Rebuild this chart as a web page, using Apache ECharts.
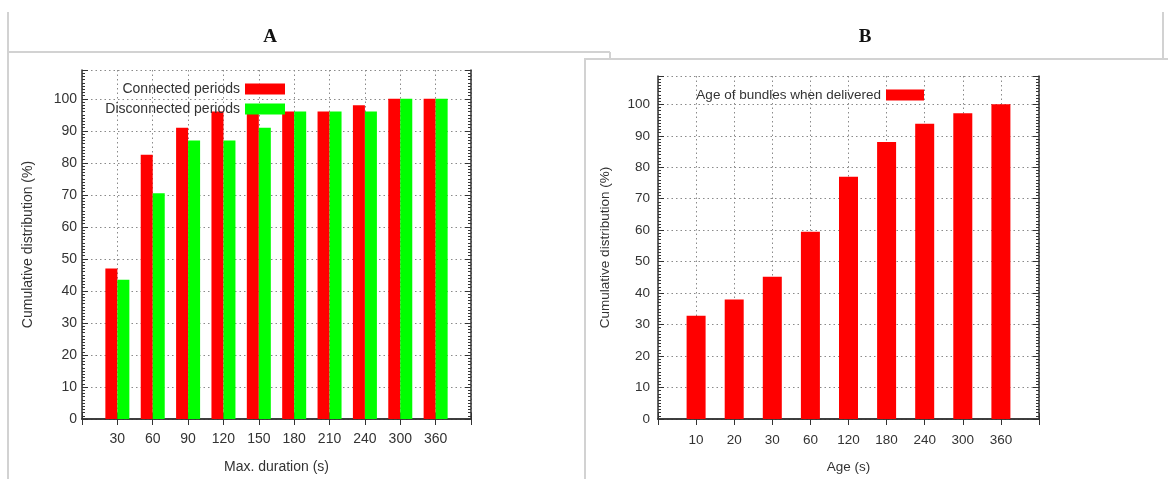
<!DOCTYPE html>
<html>
<head>
<meta charset="utf-8">
<title>cumulative distribution</title>
<script src="https://cdn.jsdelivr.net/npm/echarts@6.0.0/dist/echarts.min.js"></script>
<style>
	html, body { margin: 0; padding: 0; background: #fff; }
	#main { width: 1168px; height: 479px; }
</style>
</head>
<body>
<div id="main"></div>
<script type="text/javascript">
	// A: max. duration of periods
	var durationCats = ['30', '60', '90', '120', '150', '180', '210', '240', '300', '360'];
	var connected = [47, 82.5, 91, 96, 96, 96, 96, 98, 100, 100];
	var disconnected = [43.5, 70.5, 87, 87, 91, 96, 96, 96, 100, 100];

	// B: age of bundles
	var ageCats = ['10', '20', '30', '60', '120', '180', '240', '300', '360'];
	var delivered = [32.8, 38, 45.2, 59.5, 77, 88, 93.8, 97.2, 100];

	// y scale, ticks 0..100 every 10
	var yMax = 109;
	var yStep = 10;

	var FONT = 'Liberation Sans';
	var AXIS_COLOR = '#333';
	var GRID_LINE = { color: '#8a8a8a', width: 1, type: [1.5, 3] };
	var BORDER = '#d2d2d2';

	// one empty slot on each side, like gnuplot's range
	function pad(arr, blank) {
		return [blank].concat(arr, [blank]);
	}

	function bottomAxis(gi, cats, name, fs, margin, nameGap) {
		return {
			type: 'category', gridIndex: gi, position: 'bottom',
			data: pad(cats, ''), boundaryGap: false,
			name: name, nameLocation: 'middle', nameGap: nameGap,
			nameTextStyle: { fontFamily: FONT, fontSize: fs, color: AXIS_COLOR },
			axisLine: { lineStyle: { color: AXIS_COLOR, width: 1.5 } },
			axisTick: { inside: true, length: 6, interval: 0, lineStyle: { color: AXIS_COLOR } },
			axisLabel: { interval: 0, margin: margin, fontFamily: FONT, fontSize: fs, color: AXIS_COLOR },
			splitLine: { show: true, interval: 0, lineStyle: GRID_LINE }
		};
	}

	function topAxis(gi, cats) {
		return {
			type: 'category', gridIndex: gi, position: 'top',
			data: pad(cats, ''), boundaryGap: false,
			axisLine: { lineStyle: { color: AXIS_COLOR, width: 1.5 } },
			axisTick: { inside: true, length: 6, interval: 0, lineStyle: { color: AXIS_COLOR } },
			axisLabel: { show: false },
			splitLine: { show: false }
		};
	}

	function valueAxis(gi, pos, withLabels, fs, margin, nameGap) {
		var ax = {
			type: 'value', gridIndex: gi, position: pos,
			min: 0, max: yMax, interval: yStep,
			axisLine: { show: true, lineStyle: { color: AXIS_COLOR, width: 1.5 } },
			axisTick: { show: true, inside: true, length: 6, lineStyle: { color: AXIS_COLOR } },
			minorTick: { show: true, splitNumber: 10, length: 3, lineStyle: { color: AXIS_COLOR } },
			axisLabel: { show: withLabels, showMaxLabel: false, margin: margin,
				fontFamily: FONT, fontSize: fs, color: AXIS_COLOR },
			splitLine: { show: withLabels, lineStyle: GRID_LINE }
		};
		if (withLabels) {
			ax.name = 'Cumulative distribution (%)';
			ax.nameLocation = 'middle';
			ax.nameGap = nameGap;
			ax.nameTextStyle = { fontFamily: FONT, fontSize: fs, color: AXIS_COLOR };
		}
		return ax;
	}

	function frameLine(x1, y1, x2, y2) {
		return {
			type: 'line', silent: true,
			shape: { x1: x1, y1: y1, x2: x2, y2: y2 },
			style: { stroke: BORDER, lineWidth: 2 }
		};
	}

	function initChart() {
		var myChart = echarts.init(document.getElementById('main'));
		var option = {
			animation: false,
			backgroundColor: '#fff',
			graphic: [
				frameLine(8, 12, 8, 479),
				frameLine(8, 52, 610, 52),
				frameLine(610, 52, 610, 59),
				{ type: 'rect', silent: true, shape: { x: 585, y: 59, width: 600, height: 430 },
					style: { fill: '#fff', stroke: BORDER, lineWidth: 2 }, z: -10 },
				frameLine(1163, 12, 1163, 59),
				{ type: 'text', x: 270, y: 37, style: { text: 'A', font: 'bold 19px "Liberation Serif"',
					fill: '#111', align: 'center', verticalAlign: 'middle' } },
				{ type: 'text', x: 865, y: 37, style: { text: 'B', font: 'bold 19px "Liberation Serif"',
					fill: '#111', align: 'center', verticalAlign: 'middle' } }
			],
			legend: [
				{
					data: ['Connected periods', 'Disconnected periods'],
					orient: 'vertical', align: 'right',
					right: 1168 - 290, top: 77,
					itemWidth: 40, itemHeight: 11, itemGap: 6,
					icon: 'rect', selectedMode: false,
					textStyle: { fontFamily: FONT, fontSize: 14, color: AXIS_COLOR }
				},
				{
					data: ['Age of bundles when delivered'],
					orient: 'vertical', align: 'right',
					right: 1168 - 929, top: 83,
					itemWidth: 38, itemHeight: 11,
					icon: 'rect', selectedMode: false,
					textStyle: { fontFamily: FONT, fontSize: 13.5, color: AXIS_COLOR }
				}
			],
			grid: [
				{ left: 82, top: 70, width: 389, height: 351 },
				{ left: 658, top: 76, width: 381, height: 346 }
			],
			xAxis: [
				bottomAxis(0, durationCats, 'Max. duration (s)', 14, 13, 41),
				topAxis(0, durationCats),
				bottomAxis(1, ageCats, 'Age (s)', 13.5, 14, 41),
				topAxis(1, ageCats)
			],
			yAxis: [
				valueAxis(0, 'left', true, 14, 5, 47),
				valueAxis(0, 'right', false),
				valueAxis(1, 'left', true, 13.5, 8, 46),
				valueAxis(1, 'right', false)
			],
			series: [
				{ name: 'Connected periods', type: 'bar', xAxisIndex: 0, yAxisIndex: 0,
					data: pad(connected, '-'), barWidth: 12, barGap: '0%',
					itemStyle: { color: '#ff0000' } },
				{ name: 'Disconnected periods', type: 'bar', xAxisIndex: 0, yAxisIndex: 0,
					data: pad(disconnected, '-'), barWidth: 12, barGap: '0%',
					itemStyle: { color: '#00ff00' } },
				{ name: 'Age of bundles when delivered', type: 'bar', xAxisIndex: 2, yAxisIndex: 2,
					data: pad(delivered, '-'), barWidth: 19,
					itemStyle: { color: '#ff0000' } }
			]
		};
		myChart.setOption(option);
	}

	initChart();
</script>
</body>
</html>
